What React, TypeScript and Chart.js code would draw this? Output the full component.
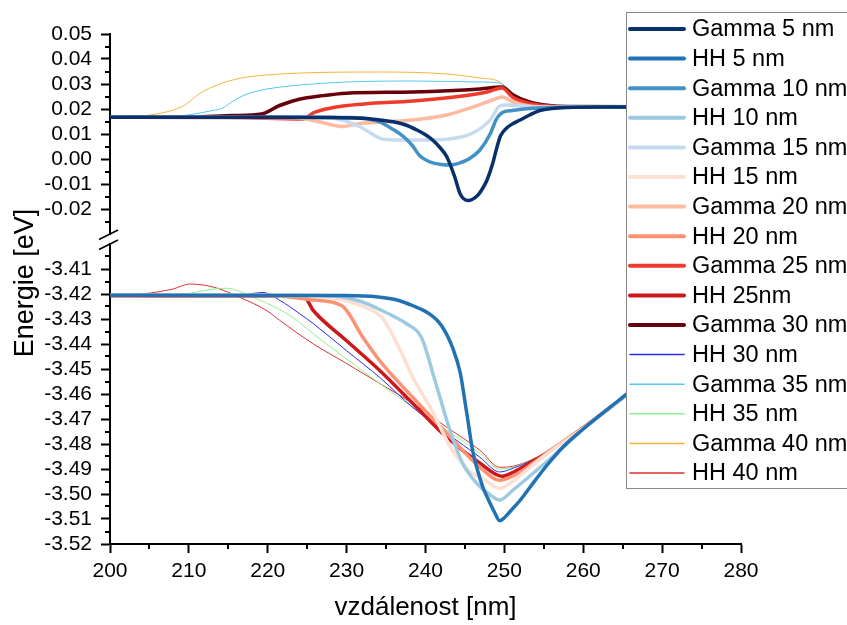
import React, { useEffect, useRef } from 'react';
import { Chart, registerables } from 'chart.js';

Chart.register(...registerables);

const FONT = "'Liberation Sans', Arial, Helvetica, sans-serif";

// Conduction band (Gamma) profiles: position [nm] and energy [eV]
const gamma5X = [200, 220, 228, 231.7, 234, 235.9, 237.5, 238.9, 240, 240.9, 241.8, 242.7, 243.7, 244.4, 245.4, 246.6, 247.2, 247.8, 248.5, 249.0, 249.5, 250.3, 251, 252, 253.2, 254.5, 256, 258, 262, 280];
const gamma5Y = [0.0167, 0.0167, 0.0166, 0.0163, 0.0157, 0.0149, 0.0136, 0.0116, 0.0097, 0.0076, 0.0047, 0.0009, -0.0071, -0.0140, -0.0166, -0.0146, -0.0120, -0.0084, -0.0020, 0.0040, 0.0092, 0.0124, 0.0140, 0.0156, 0.0176, 0.0194, 0.0202, 0.0206, 0.0208, 0.0208];

const gamma10X = [200, 225, 230, 232.5, 234.2, 235.9, 237.2, 238.3, 239.3, 240.6, 242, 243.1, 244.4, 245.5, 246.9, 248.2, 249, 249.7, 251, 252.5, 254.5, 257, 262, 280];
const gamma10Y = [0.0167, 0.0167, 0.0166, 0.0162, 0.0148, 0.0118, 0.0090, 0.0055, 0.0012, -0.0012, -0.0022, -0.0024, -0.0015, 0.0000, 0.0036, 0.0100, 0.0160, 0.0185, 0.0194, 0.0200, 0.0204, 0.0207, 0.0208, 0.0208];

const gamma15X = [200, 226, 229, 231.7, 233.5, 234.6, 237, 241, 243, 244.5, 246, 247.3, 248.3, 249.4, 250.3, 251.5, 253.2, 256, 262, 280];
const gamma15Y = [0.0167, 0.0166, 0.0159, 0.0129, 0.0095, 0.0079, 0.0076, 0.0076, 0.0080, 0.0088, 0.0104, 0.0130, 0.0160, 0.0212, 0.0216, 0.0214, 0.0209, 0.0207, 0.0208, 0.0208];

const gamma20X = [200, 222, 224.5, 227, 229.5, 231.3, 234.2, 238.4, 242.7, 246, 248.5, 249.7, 251.1, 253.2, 256, 262, 280];
const gamma20Y = [0.0167, 0.0166, 0.0162, 0.0145, 0.0130, 0.0140, 0.0148, 0.0156, 0.0176, 0.0208, 0.0236, 0.0248, 0.0228, 0.0212, 0.0208, 0.0208, 0.0208];

const gamma25X = [200, 215, 224.5, 225.8, 228, 232.2, 238.4, 244.7, 247.8, 249.7, 251.1, 253.2, 256, 262, 280];
const gamma25Y = [0.0167, 0.0166, 0.0160, 0.0185, 0.0204, 0.0220, 0.0232, 0.0252, 0.0268, 0.0284, 0.0246, 0.0222, 0.0211, 0.0208, 0.0208];

const gamma30X = [200, 210, 215.6, 219.2, 221.5, 224.1, 226.6, 230, 238.4, 246.9, 249.7, 251.1, 253.2, 255.4, 258, 280];
const gamma30Y = [0.0167, 0.0168, 0.0174, 0.0180, 0.0214, 0.0240, 0.0252, 0.0263, 0.0268, 0.0280, 0.0288, 0.0256, 0.0228, 0.0215, 0.0210, 0.0208];

const gamma35X = [200, 205, 208.9, 211.4, 213, 214.3, 215.3, 216.5, 218, 219.9, 224.1, 230, 238.4, 246.9, 249.4, 251.1, 253.2, 255.4, 258, 280];
const gamma35Y = [0.0167, 0.0168, 0.0172, 0.0184, 0.0194, 0.0204, 0.0225, 0.0248, 0.0266, 0.0280, 0.0296, 0.0308, 0.0312, 0.0308, 0.0304, 0.0264, 0.0228, 0.0214, 0.0210, 0.0208];

const gamma40X = [200, 203, 205.1, 208, 209.5, 211.4, 213.6, 216.5, 219.9, 224.1, 234.2, 242.7, 246.9, 249.4, 251.1, 253.2, 255.4, 258, 280];
const gamma40Y = [0.0167, 0.0170, 0.0176, 0.0196, 0.0216, 0.0263, 0.0296, 0.0323, 0.0336, 0.0344, 0.0348, 0.0340, 0.0324, 0.0308, 0.0256, 0.0228, 0.0214, 0.0210, 0.0208];

// Heavy-hole (HH) valence band profiles
const hh5X = [200, 230, 234, 236.5, 238.4, 240.6, 242, 243.5, 244.4, 245.2, 246.0, 246.6, 247.3, 247.8, 248.8, 249.4, 250.0, 250.7, 252, 253.2, 255.4, 257.5, 260, 264, 270, 280];
const hh5Y = [-3.4205, -3.4206, -3.4212, -3.4225, -3.4247, -3.4282, -3.4325, -3.4420, -3.4515, -3.4670, -3.4830, -3.4905, -3.4975, -3.5011, -3.5076, -3.5107, -3.5095, -3.5071, -3.5025, -3.4975, -3.4885, -3.4810, -3.4740, -3.4638, -3.4490, -3.4250];

const hh10X = [200, 226, 230, 232.5, 234.2, 236, 237.6, 239.5, 241.2, 243.1, 244.7, 246.5, 248.2, 249.4, 251.1, 254.1, 256.5, 260, 264, 270, 280];
const hh10Y = [-3.4205, -3.4206, -3.4215, -3.4238, -3.4262, -3.4290, -3.4319, -3.4375, -3.4546, -3.4745, -3.4877, -3.4957, -3.5004, -3.5024, -3.4984, -3.4905, -3.4840, -3.4740, -3.4640, -3.4490, -3.4250];

const hh15X = [200, 224, 228, 232.1, 234.5, 236.4, 238.4, 240.6, 243.5, 245.5, 247.8, 249.4, 251, 253, 255.4, 260, 264, 270, 280];
const hh15Y = [-3.4205, -3.4206, -3.4215, -3.4250, -3.4295, -3.4399, -3.4534, -3.4654, -3.4830, -3.4905, -3.4950, -3.4978, -3.4950, -3.4900, -3.4840, -3.4738, -3.4640, -3.4490, -3.4250];

const hh20X = [200, 220, 222, 225.8, 229.4, 232.1, 234.2, 238.4, 242.7, 246.9, 249.4, 251.1, 253.5, 255.4, 260, 264, 270, 280];
const hh20Y = [-3.4205, -3.4205, -3.4210, -3.4224, -3.4247, -3.4375, -3.4467, -3.4614, -3.4757, -3.4893, -3.4945, -3.4928, -3.4880, -3.4836, -3.4735, -3.4640, -3.4490, -3.4250];

const hh25X = [200, 224.5, 225.8, 230, 234.2, 238.4, 242.7, 246.9, 249.7, 251.1, 253.5, 255.4, 260, 264, 270, 280];
const hh25Y = [-3.4207, -3.4208, -3.4267, -3.4387, -3.4506, -3.4638, -3.4773, -3.4877, -3.4929, -3.4913, -3.4870, -3.4835, -3.4735, -3.4640, -3.4490, -3.4250];

const hh30X = [200, 211.4, 215, 216.9, 219.4, 221.5, 224.1, 225.8, 230, 234.2, 238.4, 242.7, 246.9, 249.4, 251.1, 253.5, 255.4, 260, 264, 270, 280];
const hh30Y = [-3.4205, -3.4205, -3.4203, -3.4202, -3.4194, -3.4225, -3.4280, -3.4319, -3.4427, -3.4534, -3.4654, -3.4757, -3.4853, -3.4912, -3.4897, -3.4865, -3.4833, -3.4735, -3.4640, -3.4490, -3.4250];

const hh35X = [200, 207, 209.3, 211.4, 213, 214.8, 216.5, 218.2, 221.5, 224.1, 225.8, 230, 234.2, 238.4, 242.7, 246.9, 249.4, 251.1, 253.5, 255.4, 260, 264, 270, 280];
const hh35Y = [-3.4205, -3.4204, -3.4200, -3.4190, -3.4181, -3.4177, -3.4190, -3.4214, -3.4262, -3.4315, -3.4360, -3.4460, -3.4558, -3.4654, -3.4745, -3.4837, -3.4900, -3.4893, -3.4862, -3.4833, -3.4735, -3.4640, -3.4490, -3.4250];

const hh40X = [200, 203, 205.1, 208, 210.1, 212, 213.6, 216.5, 219.9, 221.5, 225.8, 230, 234.2, 238.4, 242.7, 246.9, 249.4, 251.1, 253.5, 255.4, 260, 264, 270, 280];
const hh40Y = [-3.4205, -3.4202, -3.4196, -3.4180, -3.4160, -3.4165, -3.4177, -3.4214, -3.4267, -3.4305, -3.4400, -3.4478, -3.4558, -3.4638, -3.4733, -3.4825, -3.4893, -3.4889, -3.4862, -3.4833, -3.4735, -3.4640, -3.4490, -3.4250];

// Series names, in legend order
const seriesLabels = [
  'Gamma 5 nm', 'HH 5 nm', 'Gamma 10 nm', 'HH 10 nm', 'Gamma 15 nm', 'HH 15 nm',
  'Gamma 20 nm', 'HH 20 nm', 'Gamma 25 nm', 'HH 25nm', 'Gamma 30 nm', 'HH 30 nm',
  'Gamma 35 nm', 'HH 35 nm', 'Gamma 40 nm', 'HH 40 nm',
];
const seriesX = [gamma5X, hh5X, gamma10X, hh10X, gamma15X, hh15X, gamma20X, hh20X, gamma25X, hh25X, gamma30X, hh30X, gamma35X, hh35X, gamma40X, hh40X];
const seriesY = [gamma5Y, hh5Y, gamma10Y, hh10Y, gamma15Y, hh15Y, gamma20Y, hh20Y, gamma25Y, hh25Y, gamma30Y, hh30Y, gamma35Y, hh35Y, gamma40Y, hh40Y];

// Tick values
const xTicks = [200, 210, 220, 230, 240, 250, 260, 270, 280];
const xMinorTicks = [205, 215, 225, 235, 245, 255, 265, 275];
const topTicks = [-0.02, -0.01, 0.0, 0.01, 0.02, 0.03, 0.04, 0.05];
const topMinorTicks = [-0.025, -0.015, -0.005, 0.005, 0.015, 0.025, 0.035, 0.045];
const bottomTicks = [-3.52, -3.51, -3.5, -3.49, -3.48, -3.47, -3.46, -3.45, -3.44, -3.43, -3.42, -3.41];
const bottomMinorTicks = [-3.515, -3.505, -3.495, -3.485, -3.475, -3.465, -3.455, -3.445, -3.435, -3.425, -3.415, -3.405];

// Line styles
const seriesColors = [
  '#08306b', '#2171b5', '#4292c6', '#9ecae1', '#c6dbef', '#fee0d2',
  '#fcbba1', '#fc9272', '#ef3b2c', '#cb181d', '#67000d', '#2a2af0',
  '#55c5f5', '#8ef08e', '#f5b33a', '#e03030',
];
const seriesWidths = [3.5, 3.5, 3.5, 3.5, 3.5, 3.5, 3.5, 3.5, 3.5, 3.5, 3.5, 1, 1, 1, 1, 1];

const AXIS_W = 110;

const decorPlugin = {
  id: 'decor',
  afterDraw(chart: any) {
    const ctx: CanvasRenderingContext2D = chart.ctx;
    const { x, yTop, yBottom } = chart.scales;
    ctx.save();

    // minor ticks
    ctx.strokeStyle = '#000';
    ctx.lineWidth = 2;
    ctx.beginPath();
    for (const v of xMinorTicks) {
      const px = Math.round(x.getPixelForValue(v));
      ctx.moveTo(px, x.top);
      ctx.lineTo(px, x.top + 5);
    }
    for (const v of topMinorTicks) {
      const py = Math.round(yTop.getPixelForValue(v));
      ctx.moveTo(yTop.right - 5, py);
      ctx.lineTo(yTop.right, py);
    }
    for (const v of bottomMinorTicks) {
      const py = Math.round(yBottom.getPixelForValue(v));
      ctx.moveTo(yBottom.right - 5, py);
      ctx.lineTo(yBottom.right, py);
    }
    ctx.stroke();

    // axis break marks
    ctx.lineWidth = 1.6;
    ctx.beginPath();
    const bx = yTop.right - 1;
    for (const by of [yTop.bottom + 0.5, yBottom.top + 0.5]) {
      ctx.moveTo(bx - 10, by + 5);
      ctx.lineTo(bx + 9, by - 4.5);
    }
    ctx.stroke();

    // y axis title, centred on the whole axis stack
    ctx.fillStyle = '#000';
    ctx.font = `27px ${FONT}`;
    ctx.textAlign = 'center';
    ctx.textBaseline = 'middle';
    ctx.translate(26, (yTop.top + yBottom.bottom) / 2 - 6);
    ctx.rotate(-Math.PI / 2);
    ctx.fillText('Energie [eV]', 0, 0);
    ctx.setTransform(1, 0, 0, 1, 0, 0);

    // legend box
    const lx = 626.5;
    const ly = 12.5;
    const rowH = 29.6;
    const lh = 476;
    ctx.fillStyle = '#fff';
    ctx.fillRect(lx, ly, chart.width - lx + 5, lh);
    ctx.strokeStyle = '#8a8a8a';
    ctx.lineWidth = 1;
    ctx.strokeRect(lx, ly, chart.width - lx + 5, lh);
    ctx.font = `23.5px ${FONT}`;
    ctx.textAlign = 'left';
    ctx.textBaseline = 'middle';
    chart.data.datasets.forEach((ds: any, i: number) => {
      const ry = ly + 16.5 + i * rowH;
      ctx.strokeStyle = ds.borderColor;
      ctx.lineWidth = ds.borderWidth > 2 ? 4 : 1.5;
      ctx.lineCap = 'round';
      ctx.beginPath();
      ctx.moveTo(630, ry);
      ctx.lineTo(684, ry);
      ctx.stroke();
      ctx.fillStyle = '#000';
      ctx.fillText(ds.label, 692, ry + 1);
    });

    ctx.restore();
  },
};

export default function App() {
  const canvasRef = useRef<HTMLCanvasElement | null>(null);

  useEffect(() => {
    document.body.style.margin = '0';
    const canvas = canvasRef.current;
    if (!canvas) return;

    const datasets = seriesLabels.map((label, i) => ({
      label,
      data: seriesX[i].map((xv, j) => ({ x: xv, y: seriesY[i][j] })),
      borderColor: seriesColors[i],
      backgroundColor: seriesColors[i],
      borderWidth: seriesWidths[i],
      yAxisID: label.startsWith('Gamma') ? 'yTop' : 'yBottom',
      pointRadius: 0,
      cubicInterpolationMode: 'monotone' as const,
      borderJoinStyle: 'round' as const,
      borderCapStyle: 'round' as const,
      fill: false,
    }));

    const tickFont = { family: FONT, size: 21 };
    const yCommon = {
      type: 'linear' as const,
      position: 'left' as const,
      stack: 'energy',
      afterFit: (s: any) => { s.width = AXIS_W; },
      border: { display: true, color: '#000', width: 2 },
      grid: { display: true, drawOnChartArea: false, drawTicks: true, tickLength: 9, tickWidth: 2, tickColor: '#000' },
      ticks: {
        font: tickFont,
        color: '#000',
        padding: 9,
        autoSkip: false,
        callback: (v: any) => Number(v).toFixed(2),
      },
    };

    const chart = new Chart(canvas, {
      type: 'line',
      data: { datasets },
      options: {
        animation: false,
        responsive: false,
        devicePixelRatio: 1,
        layout: { padding: { top: 34, right: 106, bottom: 0, left: 0 } },
        plugins: { legend: { display: false }, tooltip: { enabled: false } },
        scales: {
          x: {
            type: 'linear',
            min: 200,
            max: 280,
            position: 'bottom',
            afterBuildTicks: (s: any) => { s.ticks = xTicks.map((v) => ({ value: v })); },
            afterFit: (s: any) => { s.height = 81; },
            border: { display: true, color: '#000', width: 2 },
            grid: { display: true, drawOnChartArea: false, drawTicks: true, tickLength: 9, tickWidth: 2, tickColor: '#000' },
            ticks: { font: tickFont, color: '#000', padding: 6, maxRotation: 0, autoSkip: false, callback: (v: any) => String(v) },
            title: { display: true, text: 'vzdálenost [nm]', color: '#000', font: { family: FONT, size: 26 }, padding: { top: 0, bottom: 2 } },
          },
          yBottom: {
            ...yCommon,
            min: -3.52,
            max: -3.40,
            stackWeight: 300,
            afterBuildTicks: (s: any) => { s.ticks = bottomTicks.map((v) => ({ value: v })); },
          },
          yGap: {
            type: 'linear',
            position: 'left',
            stack: 'energy',
            stackWeight: 10,
            afterFit: (s: any) => { s.width = AXIS_W; },
            border: { display: false },
            grid: { display: false },
            ticks: { display: false },
          },
          yTop: {
            ...yCommon,
            min: -0.03,
            max: 0.05,
            stackWeight: 200,
            afterBuildTicks: (s: any) => { s.ticks = topTicks.map((v) => ({ value: v })); },
          },
        },
      } as any,
      plugins: [decorPlugin],
    });

    return () => chart.destroy();
  }, []);

  return (
    <div style={{ position: 'fixed', left: 0, top: 0, width: 847, height: 625, background: '#fff', overflow: 'hidden' }}>
      <canvas ref={canvasRef} width={847} height={625} style={{ display: 'block' }} />
    </div>
  );
}
